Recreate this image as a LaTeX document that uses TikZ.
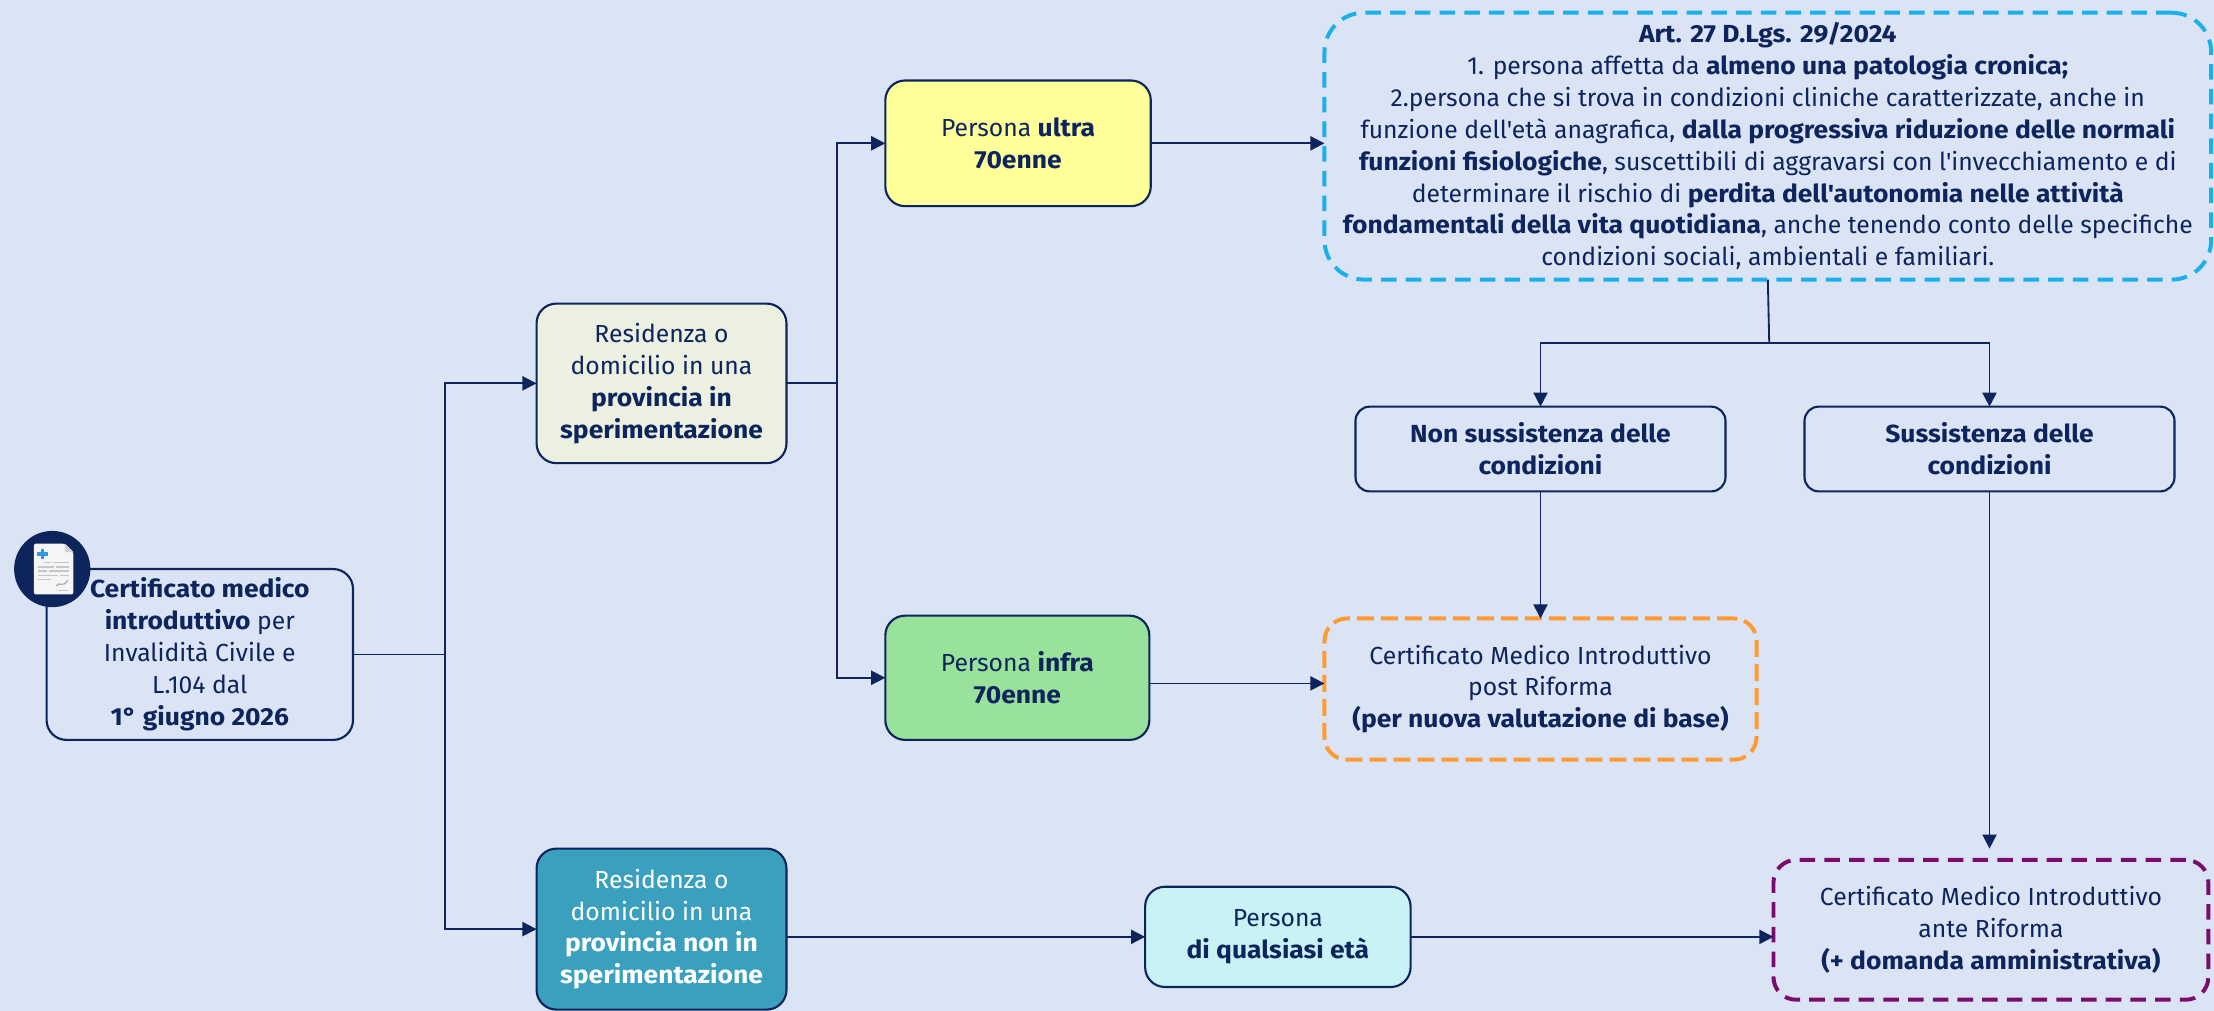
\documentclass[tikz,border=0pt]{standalone}
\usepackage{fontspec}
\setmainfont{Fira Sans}[Ligatures=TeXOff,BoldFeatures={FakeStretch=1.07}]
\usetikzlibrary{arrows.meta,calc}
\definecolor{bgc}{RGB}{218,228,245}
\definecolor{navy}{RGB}{14,36,92}
\definecolor{resin}{RGB}{235,240,224}
\definecolor{yel}{RGB}{255,255,153}
\definecolor{grn}{RGB}{152,226,155}
\definecolor{teal}{RGB}{58,160,190}
\definecolor{lcyan}{RGB}{200,242,244}
\definecolor{cyandash}{RGB}{27,176,234}
\definecolor{orangedash}{RGB}{255,154,51}
\definecolor{purpledash}{RGB}{123,12,110}
\definecolor{crossblue}{RGB}{46,155,230}
\begin{document}
\begin{tikzpicture}[x=1pt,y=-1pt,
  every node/.style={inner sep=0pt,outer sep=0pt,align=center,text=navy,
    font=\fontsize{17.5}{22.6}\selectfont},
  box/.style={draw=navy,line width=1.5pt,rounded corners=14pt},
  dbox/.style={line width=2.8pt,rounded corners=16pt,dash pattern=on 11pt off 6.5pt},
  conn/.style={draw=navy,line width=1.3pt},
  arr/.style={conn,-{Triangle[length=10pt,width=10pt]}}]
\useasboundingbox (0,0) rectangle (1568,716);
\fill[bgc] (0,0) rectangle (1568,716);

% nodes
\node[box,fill=bgc,minimum width=217pt,minimum height=121pt] (cert) at (141.5,463.5)
  {\textbf{Certificato medico}\\\textbf{introduttivo} per\\Invalidità Civile e\\L.104 dal\\\textbf{1° giugno 2026}};
\node[box,fill=resin,minimum width=177pt,minimum height=113pt] (res1) at (468.5,271.5)
  {Residenza o\\domicilio in una\\\textbf{provincia in}\\\textbf{sperimentazione}};
\node[box,fill=teal,text=white,minimum width=177pt,minimum height=114pt] (res2) at (468.5,658)
  {Residenza o\\domicilio in una\\\textbf{provincia non in}\\\textbf{sperimentazione}};
\node[box,fill=yel,minimum width=188pt,minimum height=89pt] (ultra) at (721,101.5)
  {Persona \textbf{ultra}\\\textbf{70enne}};
\node[box,fill=grn,minimum width=187pt,minimum height=88pt] (infra) at (720.5,480)
  {Persona \textbf{infra}\\\textbf{70enne}};
\node[dbox,draw=cyandash,rounded corners=28pt,minimum width=628pt,minimum height=189pt] (art) at (1252,103.5)
  {\textbf{Art. 27 D.Lgs. 29/2024}\\
   1. persona affetta da \textbf{almeno una patologia cronica;}\\
   2.persona che si trova in condizioni cliniche caratterizzate, anche in\\
   funzione dell'età anagrafica, \textbf{dalla progressiva riduzione delle normali}\\
   \textbf{funzioni fisiologiche}, suscettibili di aggravarsi con l'invecchiamento e di\\
   determinare il rischio di \textbf{perdita dell'autonomia nelle attività}\\
   \textbf{fondamentali della vita quotidiana}, anche tenendo conto delle specifiche\\
   condizioni sociali, ambientali e familiari.};
\node[box,rounded corners=10pt,fill=bgc,minimum width=262pt,minimum height=60pt] (non) at (1091,318)
  {\textbf{Non sussistenza delle}\\\textbf{condizioni}};
\node[box,rounded corners=10pt,fill=bgc,minimum width=262pt,minimum height=60pt] (suss) at (1409,318)
  {\textbf{Sussistenza delle}\\\textbf{condizioni}};
\node[dbox,draw=orangedash,dash pattern=on 12pt off 5pt,minimum width=306pt,minimum height=100pt] (post) at (1091,488)
  {Certificato Medico Introduttivo\\post Riforma\\\textbf{(per nuova valutazione di base)}};
\node[box,fill=lcyan,minimum width=188pt,minimum height=71pt] (qual) at (905,663.5)
  {Persona\\\textbf{di qualsiasi età}};
\node[dbox,draw=purpledash,minimum width=308pt,minimum height=99pt] (ante) at (1410,658.5)
  {Certificato Medico Introduttivo\\ante Riforma\\\textbf{(+ domanda amministrativa)}};

% icon
\fill[navy] (37,403) circle (27);
\fill[white!92!gray,rounded corners=1.5pt] (24,385) -- (46,385) -- (52,391) -- (52,421) -- (24,421) -- cycle;
\fill[gray!35] (46,385) -- (46,391) -- (52,391) -- cycle;
\fill[crossblue] (28.8,388.5) rectangle (31.4,396);
\fill[crossblue] (26.3,391) rectangle (33.9,393.5);
\begin{scope}[gray!45,line width=1pt]
\draw (31,398.5) -- (36,398.5) (37.5,398.5) -- (49,398.5);
\draw (27,401.5) -- (38,401.5) (39.5,401.5) -- (49,401.5);
\draw (27,404.5) -- (33,404.5) (34.5,404.5) -- (49,404.5);
\draw (27,407.5) -- (41,407.5) (42.5,407.5) -- (49,407.5);
\draw (27,410.5) -- (36,410.5);
\end{scope}
\draw[gray!70,line width=0.8pt] (40,415) .. controls (42,411) and (44,417) .. (48,411);
\draw[gray!45,line width=0.8pt] (41,418) -- (48,418);

% connectors
\coordinate (j1) at (315,463.5);
\coordinate (j2) at (593,271.5);
\coordinate (j3) at (1253,243);
\draw[conn] (cert.east) -- (j1);
\draw[arr] (j1) |- (res1.west);
\draw[arr] (j1) |- (res2.west);
\draw[conn] (res1.east) -- (j2);
\draw[arr] (j2) |- (ultra.west);
\draw[arr] (j2) |- (infra.west);
\draw[arr] (ultra.east) -- (ultra.east -| art.west);
\draw[conn] (art.south) -- (j3);
\draw[arr] (j3) -| (non.north);
\draw[arr] (j3) -| (suss.north);
\draw[arr] (non.south) -- (post.north);
\draw[arr] ([yshift=-4pt]infra.east) -- ([yshift=-4pt]infra.east -| post.west);
\draw[arr,shorten >=8pt] (suss.south) -- (suss.south |- ante.north);
\draw[arr] (res2.east |- qual.west) -- (qual.west);
\draw[arr] (qual.east) -- (qual.east -| ante.west);
\end{tikzpicture}
\end{document}
